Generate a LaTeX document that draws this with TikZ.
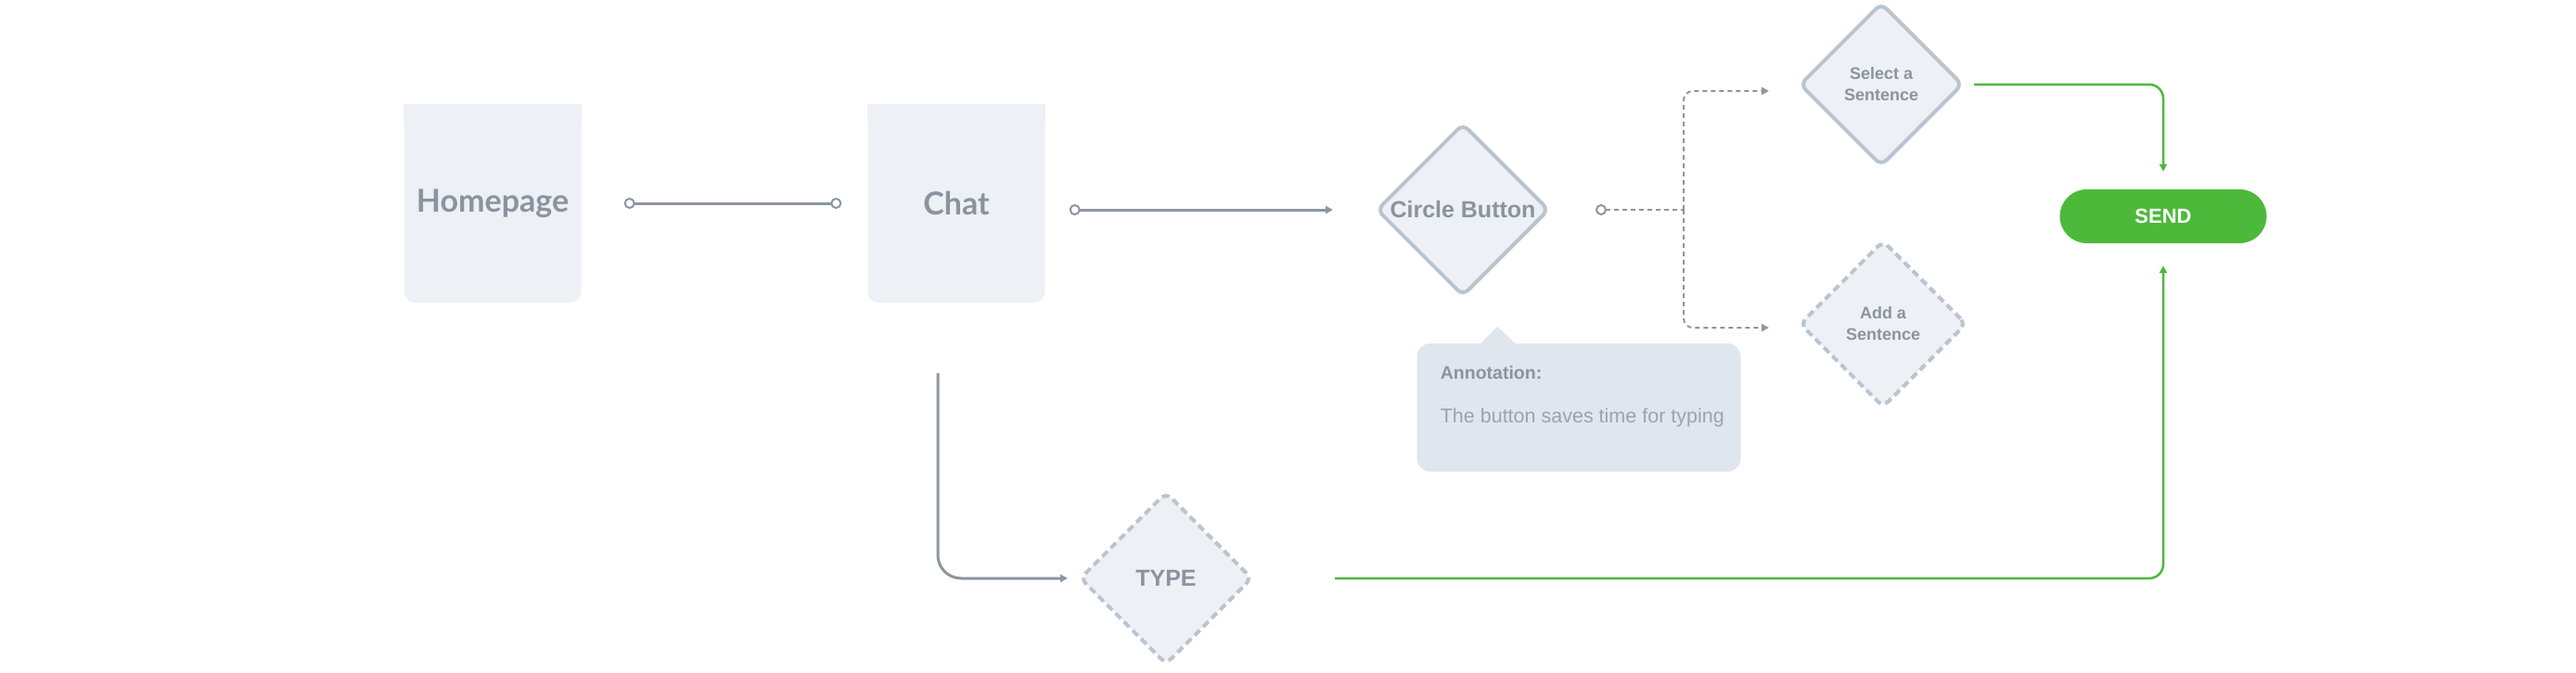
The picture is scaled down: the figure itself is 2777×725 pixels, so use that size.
\documentclass[tikz,border=0pt]{standalone}
\usepackage{fontspec}
\setmainfont{Liberation Sans}
\newfontfamily\mulifont{Lato}
\usepackage{tikz}
\usetikzlibrary{calc}
\usetikzlibrary{positioning}
\usetikzlibrary{shapes}
\usetikzlibrary{arrows.meta}

\definecolor{boxfill}{HTML}{EDF0F5}
\definecolor{boxline}{HTML}{B9C4CF}
\definecolor{ink}{HTML}{8A949F}
\definecolor{softink}{HTML}{9AA4AE}
\definecolor{wire}{HTML}{8C96A1}
\definecolor{go}{HTML}{4DB93A}
\definecolor{notefill}{HTML}{DFE6ED}

\tikzset{
	ring/.tip={Circle[open, length=12pt, width=12pt, line width=2pt]},
	>/.tip={Triangle[length=8pt, width=8pt]}
}

\begin{document}
\begin{tikzpicture}[x=1pt, y=1pt, line join=round,                          % one unit per pixel
	                    node distance=100pt, on grid,                          % node placement settings
	page/.style={fill=boxfill, rounded corners=12pt, minimum width=191pt, minimum height=214pt,
		inner sep=0pt, text=ink, font=\mulifont\bfseries\fontsize{34}{40}\selectfont},
	choice/.style={diamond, aspect=1, fill=boxfill, draw=boxline, line width=4pt, rounded corners=8pt,
		inner sep=0pt, text=ink, align=center, font=\bfseries\fontsize{25}{30}\selectfont},
	maybe/.style={choice, dash pattern=on 8pt off 5pt},
	small/.style={font=\bfseries\fontsize{18}{23}\selectfont},
	sendbtn/.style={fill=go, rounded corners=29pt, minimum width=223pt, minimum height=58pt,
		text=white, font=\bfseries\fontsize{22}{26}\selectfont},
	note/.style={fill=notefill, rounded corners=14pt, minimum width=349pt, minimum height=138pt},
	link/.style={draw=wire, line width=3pt},
	dashlink/.style={draw=wire, line width=2pt, dash pattern=on 5pt off 4pt, rounded corners=10pt},
	golink/.style={draw=go, line width=2.5pt, rounded corners=15pt}]

	\useasboundingbox (0,0) rectangle (2777,-725);

	\node[page] (home) at (531,-219) {Homepage};
	\node[page] (chat) [right=500pt of home] {Chat};
	\fill[boxfill] (home.north west) rectangle ([yshift=-20pt]home.north east);
	\fill[boxfill] (chat.north west) rectangle ([yshift=-20pt]chat.north east);

	\node[choice, minimum size=186pt] (cb) [below right=7pt and 546pt of chat] {Circle Button};
	\node[choice, small, minimum size=176pt] (sel) [above right=135pt and 451pt of cb] {Select a\\Sentence};
	\node[maybe, small, minimum size=180pt] (add) [below right=123pt and 453pt of cb] {Add a\\Sentence};
	\node[sendbtn] (send) [below right=142pt and 304pt of sel] {SEND};
	\node[maybe, minimum size=186pt] (type) [below right=404pt and 226pt of chat] {TYPE};
	\coordinate (fork) at ([xshift=238pt]cb.center);

	% annotation callout
	\node[note] (ann) [below right=213pt and 125pt of cb] {};
	\fill[notefill] ([xshift=69pt]ann.north west) -- ++(18pt,18pt) -- ++(19pt,-18pt) -- cycle;
	\node[anchor=west, text=ink, font=\bfseries\fontsize{19.5}{24}\selectfont] (anntitle)
		at ([shift={(22pt,-32pt)}]ann.north west) {Annotation:};
	\node[anchor=west, text=softink, font=\fontsize{21.5}{26}\selectfont] (anntext)
		at ([shift={(22pt,-80pt)}]ann.north west) {The button saves time for typing};

	\draw[link, ring-ring, shorten <=46pt, shorten >=28pt] (home.east) -- (chat.west);
	\draw[link, ring->, shorten <=26pt, shorten >=45pt] (chat.east |- cb) -- (cb.west);
	\draw[link, ->, rounded corners=25pt, shorten <=76pt, shorten >=11pt] ([xshift=-20pt]chat.south) |- (type.west);

	\draw[dashlink, ring-, shorten <=48pt] (cb.east) -- (fork);
	\draw[dashlink, ->, shorten >=31pt] (fork) |- ([yshift=-7pt]sel.west);
	\draw[dashlink, ->, shorten >=31pt] (fork) |- ([yshift=-4pt]add.west);

	\draw[golink, ->, shorten <=10pt, shorten >=19pt] (sel.east) -| (send.north);
	\draw[golink, ->, shorten <=87pt, shorten >=24pt] (type.east) -| (send.south);
\end{tikzpicture}
\end{document}
